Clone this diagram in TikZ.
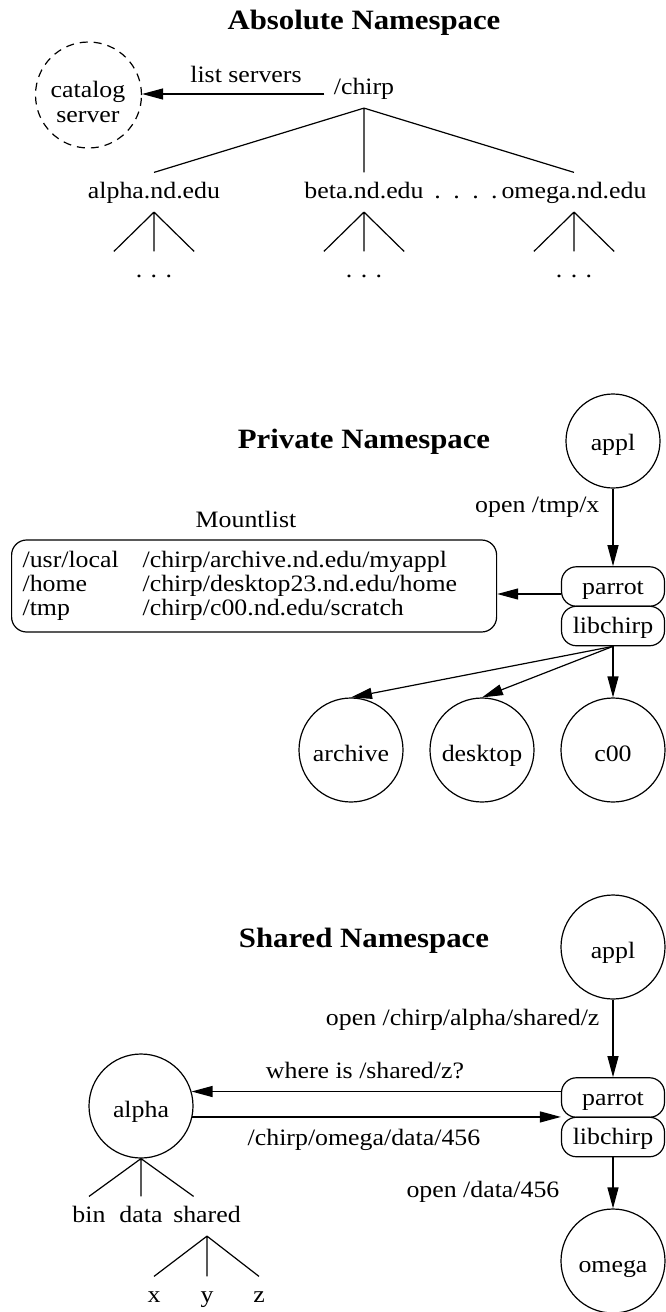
\documentclass[tikz,border=0pt]{standalone}
\usepackage{fontspec}
\setmainfont{Liberation Serif}[FakeStretch=1.1]
\usetikzlibrary{arrows.meta}
\begin{document}
\begin{tikzpicture}[x=1pt, y=-1pt,
  every node/.style={font=\fontsize{23.5}{24}\selectfont},
  line width=1.2pt,
  ttl/.style={font=\fontsize{28}{30}\selectfont\bfseries, anchor=base, inner sep=0pt},
  lbl/.style={inner xsep=0pt, inner ysep=8.5pt, text height=16.5pt, text depth=5pt, anchor=base},
  circ/.style={circle, draw, inner sep=0pt, minimum size=104pt, text height=23pt, text depth=0pt},
  libbox/.style={draw, rounded corners=15pt, minimum width=103pt, minimum height=39.5pt,
                 inner sep=0pt, text height=18pt, text depth=3pt},
  arr/.style={-{Triangle[length=21pt,width=11pt]}}
]
\fill[white] (0,0) rectangle (666,1312);
\useasboundingbox (0,0) rectangle (666,1312);

% ---------------- absolute namespace ----------------
\node[ttl] (t1) at (364,29) {Absolute Namespace};
\node[circ, dashed, dash pattern=on 8pt off 6pt, minimum size=106pt] (catalog) at (88.5,95) {};
\node[align=center, inner sep=0pt, font=\fontsize{23.5}{25}\selectfont] (catalogtxt) at (88,101.5) {catalog\\server};
\node[lbl, inner xsep=9pt] (chirp) at (364,94) {/chirp};
\node[lbl] (lists) at (246,82) {list servers};
\draw[arr] (chirp.base west) -- (chirp.base west -| catalog.east);

\node[lbl] (hostA) at (154,198) {alpha.nd.edu};
\node[lbl] (hostB) at (364,198) {beta.nd.edu};
\node[lbl] (hostC) at (574,198) {omega.nd.edu};
\node[lbl] (hostdots) at (466,198) {.\hspace{12.5pt}.\hspace{12.5pt}.\hspace{12.5pt}.};
\draw (chirp.south) -- (hostA.north)
      (chirp.south) -- (hostB.north)
      (chirp.south) -- (hostC.north);

\foreach \h/\s/\x in {hostA/subA/154, hostB/subB/364, hostC/subC/574} {
  \node[lbl, minimum width=79pt] (\s) at (\x,277) {.\hspace{8.5pt}.\hspace{8.5pt}.};
  \draw (\h.south) -- (\s.north west)
        (\h.south) -- (\s.north)
        (\h.south) -- (\s.north east);
}

% ---------------- private namespace ----------------
\node[ttl] (t2) at (364,448) {Private Namespace};
\node[circ, minimum size=94pt, text height=19pt] (appl1) at (613,441) {appl};
\node[libbox] (parrot1) at (613,586.5) {parrot};
\node[libbox] (lib1) at (613,626) {libchirp};
\draw[arr] (appl1.south) -- (parrot1.north);
\node[lbl, anchor=base east] (open1) at (600,512) {open /tmp/x};

\node[lbl] (mtitle) at (246,527) {Mountlist};
\node[draw, rounded corners=15pt, anchor=west, minimum width=485pt, minimum height=92pt,
      inner xsep=11pt, inner ysep=0pt, text width=463pt, align=left] (mount) at (11,586)
  {\makebox[120pt][l]{/usr/local}/chirp/archive.nd.edu/myappl\\
   \makebox[120pt][l]{/home}/chirp/desktop23.nd.edu/home\\
   \makebox[120pt][l]{/tmp}/chirp/c00.nd.edu/scratch};
\draw[arr] (parrot1.base west) -- (parrot1.base west -| mount.east);

\node[circ] (archive) at (351,750) {archive};
\node[circ] (desktop) at (482,750) {desktop};
\node[circ] (c00) at (613,750) {c00};
\draw[arr] (lib1.south) -- (archive.north);
\draw[arr] (lib1.south) -- (desktop.north);
\draw[arr] (lib1.south) -- (c00.north);

% ---------------- shared namespace ----------------
\node[ttl] (t3) at (364,947) {Shared Namespace};
\node[circ] (appl2) at (613,947) {appl};
\node[libbox] (parrot2) at (613,1097.5) {parrot};
\node[libbox] (lib2) at (613,1137) {libchirp};
\draw[arr] (appl2.south) -- (parrot2.north);
\node[lbl, anchor=base east] (open2) at (600,1025) {open /chirp/alpha/shared/z};

\node[circ] (alpha) at (141,1106) {alpha};
\node[lbl] (where) at (365,1078) {where is /shared/z?};
\draw[arr] (parrot2.west |- alpha.16) -- (alpha.16);
\node[lbl] (reply) at (364,1145) {/chirp/omega/data/456};
\draw[arr] (alpha.-12) -- (alpha.-12 -| parrot2.west);

\node[lbl, anchor=base east] (open3) at (560,1197) {open /data/456};
\node[circ] (omega) at (613,1261) {omega};
\draw[arr] (lib2.south) -- (omega.north);

\node[lbl] (bin) at (89,1222) {bin};
\node[lbl] (data) at (141,1222) {data};
\node[lbl] (shared) at (207,1222) {shared};
\draw (alpha.south) -- (bin.north)
      (alpha.south) -- (data.north)
      (alpha.south) -- (alpha.east |- shared.north);

\node[lbl] (fx) at (154,1302) {x};
\node[lbl] (fy) at (207,1302) {y};
\node[lbl] (fz) at (259,1302) {z};
\draw (shared.south) -- (fx.north)
      (shared.south) -- (fy.north)
      (shared.south) -- (fz.north);
\end{tikzpicture}
\end{document}
